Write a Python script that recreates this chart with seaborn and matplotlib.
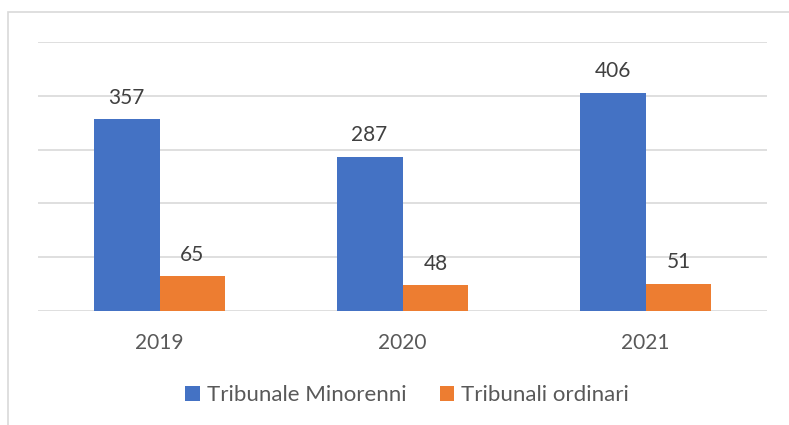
import pandas as pd
import matplotlib.pyplot as plt
import seaborn as sns
from matplotlib.patches import Rectangle

# Data
years = ['2019', '2020', '2021']
minorenni = [357, 287, 406]
ordinari = [65, 48, 51]
series_names = ['Tribunale Minorenni', 'Tribunali ordinari']
colors = ['#4472C4', '#ED7D31']

# Long-form table for seaborn
df = pd.DataFrame({
    'Anno': years * 2,
    'Valore': minorenni + ordinari,
    'Serie': [series_names[0]] * len(years) + [series_names[1]] * len(years),
})

sns.set_style('white')
plt.rcParams['font.family'] = ['Lato', 'DejaVu Sans']

fig = plt.figure(figsize=(7.89, 4.25), dpi=100)
ax = fig.add_axes([38 / 789, 1 - 311 / 425, (767 - 38) / 789, (311 - 42) / 425])

sns.barplot(data=df, x='Anno', y='Valore', hue='Serie', palette=colors,
            width=0.543, saturation=1, linewidth=0, ax=ax, legend=True)

for cont in ax.containers:
    ax.bar_label(cont, padding=8, fontsize=15, color='#404040')

# Axis styling
ax.set_ylim(0, 500)
ax.set_yticks(range(0, 501, 100))
ax.set_yticklabels([])
ax.yaxis.grid(True, color='#D9D9D9', linewidth=1.2)
ax.set_axisbelow(True)
for s in ax.spines.values():
    s.set_visible(False)
ax.tick_params(axis='both', length=0)
ax.tick_params(axis='x', pad=16, labelsize=15, labelcolor='#595959')
ax.set_xlabel('')
ax.set_ylabel('')

# Legend at the bottom
handles, labels = ax.get_legend_handles_labels()
ax.legend_.remove()
fig.legend(handles, labels, loc='center', bbox_to_anchor=(407 / 789, 1 - 395 / 425),
           ncol=2, frameon=False, fontsize=16, labelcolor='#595959',
           handlelength=0.65, handleheight=0.65, handletextpad=0.3,
           columnspacing=1.5)

# Chart frame (partly cut off on the right and bottom)
fig.patches.append(Rectangle((8 / 789, -0.1), 1.0, 1 - 12 / 425 + 0.1,
                             transform=fig.transFigure, fill=False,
                             edgecolor='#D9D9D9', linewidth=1.2))

fig.savefig('out.png', dpi=100)
